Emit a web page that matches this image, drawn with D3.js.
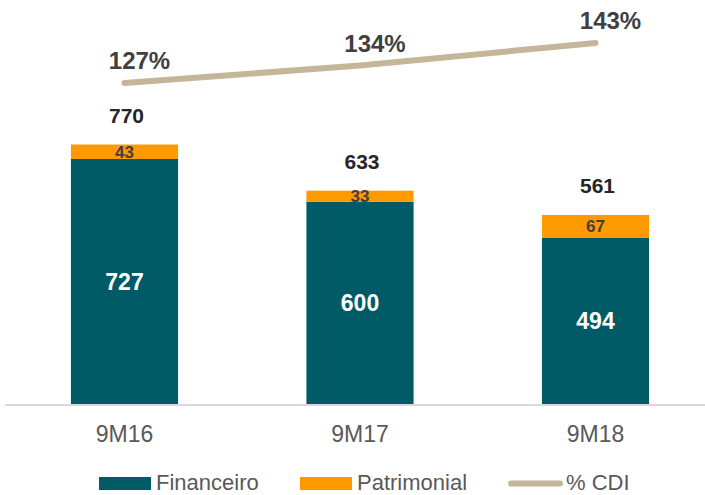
<!DOCTYPE html>
<html>
<head>
<meta charset="utf-8">
<script src="https://cdn.jsdelivr.net/npm/d3@7"></script>
<style>
  html, body { margin: 0; padding: 0; background: #fff; }
  svg { display: block; font-family: "Liberation Sans", Arial, sans-serif; }
</style>
</head>
<body>
<svg id="chart" width="705" height="495"></svg>
<script>
const categories = ["9M16", "9M17", "9M18"];
const financeiro = [727, 600, 494];
const patrimonial = [43, 33, 67];
const totals = [770, 633, 561];
const cdi = [127, 134, 143];
const cdiLabels = ["127%", "134%", "143%"];
const seriesNames = ["Financeiro", "Patrimonial", "% CDI"];

const colors = { fin: "#005B66", pat: "#FF9900", cdi: "#C4B699", text: "#404040", axis: "#595959" };

const svg = d3.select("#chart");
const baseY = 404;

const x = d3.scaleBand().domain(categories).range([6.75, 713.25]).paddingInner(0.545).paddingOuter(0.2725);
const y = d3.scaleLinear().domain([0, 1000]).range([baseY, 67]);
const yL = d3.scaleLinear().domain([0, 160]).range([400.5, 0.5]);

const data = categories.map((c, i) => ({ c, fin: financeiro[i], pat: patrimonial[i], total: totals[i], cdi: cdi[i], cdiLabel: cdiLabels[i] }));

// axis line
svg.append("line").attr("x1", 5).attr("x2", 705).attr("y1", baseY + 1).attr("y2", baseY + 1)
  .attr("stroke", "#d9d9d9").attr("stroke-width", 2);

// bars
const g = svg.append("g");
g.selectAll("rect.fin").data(data).join("rect").attr("class", "fin")
  .attr("x", d => x(d.c)).attr("width", x.bandwidth())
  .attr("y", d => y(d.fin)).attr("height", d => y(0) - y(d.fin))
  .attr("fill", colors.fin);
g.selectAll("rect.pat").data(data).join("rect").attr("class", "pat")
  .attr("x", d => x(d.c)).attr("width", x.bandwidth())
  .attr("y", d => y(d.fin + d.pat)).attr("height", d => y(d.fin) - y(d.fin + d.pat))
  .attr("fill", colors.pat);

// labels inside bars
g.selectAll("text.fin").data(data).join("text").attr("class", "fin")
  .attr("x", d => x(d.c) + x.bandwidth() / 2).attr("y", d => (y(0) + y(d.fin)) / 2)
  .attr("dy", "0.36em").attr("text-anchor", "middle")
  .attr("font-size", 23).attr("font-weight", "bold").attr("fill", "#fff")
  .text(d => d.fin);
g.selectAll("text.pat").data(data).join("text").attr("class", "pat")
  .attr("x", d => x(d.c) + x.bandwidth() / 2).attr("y", d => (y(d.fin) + y(d.fin + d.pat)) / 2)
  .attr("dy", "0.36em").attr("text-anchor", "middle")
  .attr("font-size", 17).attr("font-weight", "bold").attr("fill", colors.text)
  .text(d => d.pat);
g.selectAll("text.tot").data(data).join("text").attr("class", "tot")
  .attr("x", d => x(d.c) + x.bandwidth() / 2 + 2).attr("y", d => y(d.total) - 22)
  .attr("text-anchor", "middle")
  .attr("font-size", 21).attr("font-weight", "bold").attr("fill", "#262626")
  .text(d => d.total);

// CDI line
const line = d3.line().x(d => x(d.c) + x.bandwidth() / 2).y(d => yL(d.cdi));
svg.append("path").datum(data).attr("d", line)
  .attr("fill", "none").attr("stroke", colors.cdi).attr("stroke-width", 6)
  .attr("stroke-linecap", "round").attr("stroke-linejoin", "round");
svg.selectAll("text.cdi").data(data).join("text").attr("class", "cdi")
  .attr("x", d => x(d.c) + x.bandwidth() / 2 + 15).attr("y", d => yL(d.cdi) - 14)
  .attr("text-anchor", "middle")
  .attr("font-size", 24).attr("font-weight", "bold").attr("fill", colors.text)
  .text(d => d.cdiLabel);

// x axis labels
svg.selectAll("text.xl").data(categories).join("text").attr("class", "xl")
  .attr("x", d => x(d) + x.bandwidth() / 2).attr("y", 442)
  .attr("text-anchor", "middle").attr("font-size", 23).attr("fill", colors.axis)
  .text(d => d);

// legend
const lg = svg.append("g");
const legendItems = [
  { name: seriesNames[0], type: "rect", color: colors.fin, x: 99 },
  { name: seriesNames[1], type: "rect", color: colors.pat, x: 300 },
  { name: seriesNames[2], type: "line", color: colors.cdi, x: 509 }
];
legendItems.forEach(it => {
  if (it.type === "rect") {
    lg.append("rect").attr("x", it.x).attr("y", 477).attr("width", 52).attr("height", 13).attr("fill", it.color);
  } else {
    lg.append("line").attr("x1", it.x + 2).attr("x2", it.x + 51).attr("y1", 483.5).attr("y2", 483.5)
      .attr("stroke", it.color).attr("stroke-width", 6).attr("stroke-linecap", "round");
  }
  lg.append("text").attr("x", it.x + 57).attr("y", 489.5).attr("font-size", 22).attr("fill", colors.axis).text(it.name);
});
</script>
</body>
</html>
